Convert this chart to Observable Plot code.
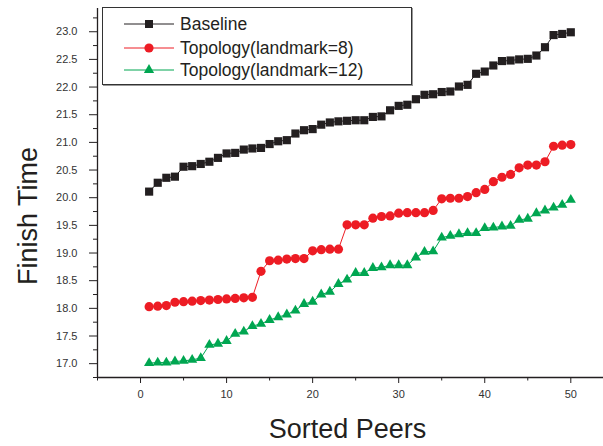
<!DOCTYPE html>
<html><head><meta charset="utf-8">
<script src="https://cdn.jsdelivr.net/npm/d3@7"></script>
<script src="https://cdn.jsdelivr.net/npm/@observablehq/plot@0.6"></script>
<style>
body{margin:0;background:#fff;}
#wrap{position:relative;width:603px;height:446px;font-family:"Liberation Sans",Arial,sans-serif;}
#legend{position:absolute;left:102px;top:7px;width:310px;height:78px;border:1px solid #333;box-shadow:1px 1px 0 #999;background:#fff;box-sizing:border-box;}
.item{position:absolute;left:0;height:22px;display:flex;align-items:center;font-size:17.5px;color:#231f20;white-space:nowrap;}
.item svg{margin-left:21px;margin-right:6px;}
</style></head><body><div id="wrap"></div>
<script>
const peers = [1,2,3,4,5,6,7,8,9,10,11,12,13,14,15,16,17,18,19,20,21,22,23,24,25,26,27,28,29,30,31,32,33,34,35,36,37,38,39,40,41,42,43,44,45,46,47,48,49,50];
const baseline = [20.11,20.27,20.36,20.38,20.56,20.57,20.61,20.65,20.72,20.80,
  20.81,20.87,20.89,20.90,20.97,21.02,21.04,21.16,21.22,21.24,
  21.32,21.36,21.38,21.39,21.40,21.40,21.46,21.47,21.58,21.66,
  21.68,21.78,21.86,21.87,21.91,21.92,22.01,22.04,22.24,22.28,
  22.39,22.47,22.48,22.50,22.51,22.57,22.72,22.94,22.96,22.99];
const landmark8 = [18.03,18.04,18.05,18.11,18.12,18.13,18.14,18.15,18.16,18.17,
  18.18,18.19,18.20,18.67,18.86,18.87,18.89,18.90,18.90,19.04,
  19.06,19.07,19.07,19.51,19.51,19.51,19.63,19.66,19.67,19.72,
  19.73,19.73,19.73,19.77,19.98,19.99,19.99,20.02,20.09,20.15,
  20.29,20.37,20.42,20.54,20.59,20.59,20.65,20.93,20.95,20.96];
const landmark12 = [17.01,17.02,17.02,17.04,17.05,17.07,17.10,17.34,17.36,17.41,
  17.54,17.58,17.68,17.72,17.79,17.84,17.89,17.96,18.08,18.12,
  18.25,18.30,18.44,18.52,18.64,18.64,18.73,18.74,18.78,18.78,
  18.78,18.92,19.02,19.03,19.28,19.31,19.34,19.36,19.36,19.45,
  19.46,19.48,19.49,19.60,19.62,19.72,19.77,19.82,19.87,19.96];
const seriesNames = ["Baseline","Topology(landmark=8)","Topology(landmark=12)"];
const seriesColors = ["#231f20","#ed1c24","#00a651"];
const seriesSymbols = ["square","circle","triangle"];
const seriesR = [4.6,4.6,3.8];
const xTicks = [0,10,20,30,40,50];
const xMinorTicks = [-5,5,15,25,35,45];
const yTicks = [17.0,17.5,18.0,18.5,19.0,19.5,20.0,20.5,21.0,21.5,22.0,22.5,23.0];
const yMinorTicks = [16.75,17.25,17.75,18.25,18.75,19.25,19.75,20.25,20.75,21.25,21.75,22.25,22.75,23.25];
const xDomain = [-5, 53.8];
const yDomain = [16.75, 23.42];

const seriesValues = [baseline, landmark8, landmark12];
const data = [];
seriesValues.forEach((vals, s) => vals.forEach((v, i) => data.push({peer: peers[i], time: v, series: seriesNames[s]})));

const font = "Liberation Sans, Arial, sans-serif";
const dotMarks = seriesNames.map((name, s) =>
  Plot.dot(data.filter(d => d.series === name), {x: "peer", y: "time", symbol: () => seriesSymbols[s], fill: seriesColors[s], r: seriesR[s]}));

const chart = Plot.plot({
  width: 603, height: 446,
  marginLeft: 97, marginRight: 0, marginTop: 8, marginBottom: 69,
  style: {fontFamily: font, fontSize: "11px", color: "#231f20", background: "#fff", overflow: "visible"},
  x: {domain: xDomain},
  y: {domain: yDomain},
  symbol: {domain: seriesSymbols, range: seriesSymbols},
  color: {domain: seriesNames, range: seriesColors},
  marks: [
    Plot.axisX({ticks: xTicks, tickSize: 6, tickPadding: 7, label: null, tickFormat: d => String(d), fontSize: 11, fill: "#333"}),
    Plot.axisX({ticks: xMinorTicks, tickSize: 3.5, label: null, tickFormat: () => ""}),
    Plot.axisY({ticks: yTicks, tickSize: 8, tickPadding: 12, label: null, tickFormat: d => d.toFixed(1), fontSize: 11, fill: "#333"}),
    Plot.axisY({ticks: yMinorTicks, tickSize: 4, label: null, tickFormat: () => ""}),
    Plot.ruleX([xDomain[0]], {strokeWidth: 1.3}),
    Plot.ruleY([yDomain[0]], {strokeWidth: 1.3}),
    Plot.line(data, {x: "peer", y: "time", z: "series", stroke: "series", strokeWidth: 1}),
    ...dotMarks,
    Plot.text(["Finish Time"], {frameAnchor: "left", dx: -69, dy: 23, rotate: -90, fontSize: 27, textAnchor: "middle", lineAnchor: "middle", fill: "#231f20"}),
    Plot.text(["Sorted Peers"], {frameAnchor: "bottom", dx: -3, dy: 52, fontSize: 27, textAnchor: "middle", lineAnchor: "middle", fill: "#231f20"})
  ]
});
const wrap = document.getElementById("wrap");
wrap.appendChild(chart);

const legend = document.createElement("div");
legend.id = "legend";
const itemTops = [5, 29, 51];
seriesNames.forEach((name, s) => {
  const item = document.createElement("div");
  item.className = "item";
  item.style.top = itemTops[s] + "px";
  let marker;
  if (s === 0) marker = `<rect x="21" y="3" width="8" height="8" fill="${seriesColors[s]}"/>`;
  else if (s === 1) marker = `<circle cx="25" cy="7" r="4.6" fill="${seriesColors[s]}"/>`;
  else marker = `<path d="${d3.symbol(d3.symbolTriangle, Math.PI * 3.8 * 3.8)()}" transform="translate(25,7)" fill="${seriesColors[s]}"/>`;
  item.innerHTML = `<svg width="50" height="14"><line x1="0" x2="50" y1="7" y2="7" stroke="${seriesColors[s]}" stroke-width="1"/>${marker}</svg><span>${name}</span>`;
  legend.appendChild(item);
});
wrap.appendChild(legend);
</script></body></html>
